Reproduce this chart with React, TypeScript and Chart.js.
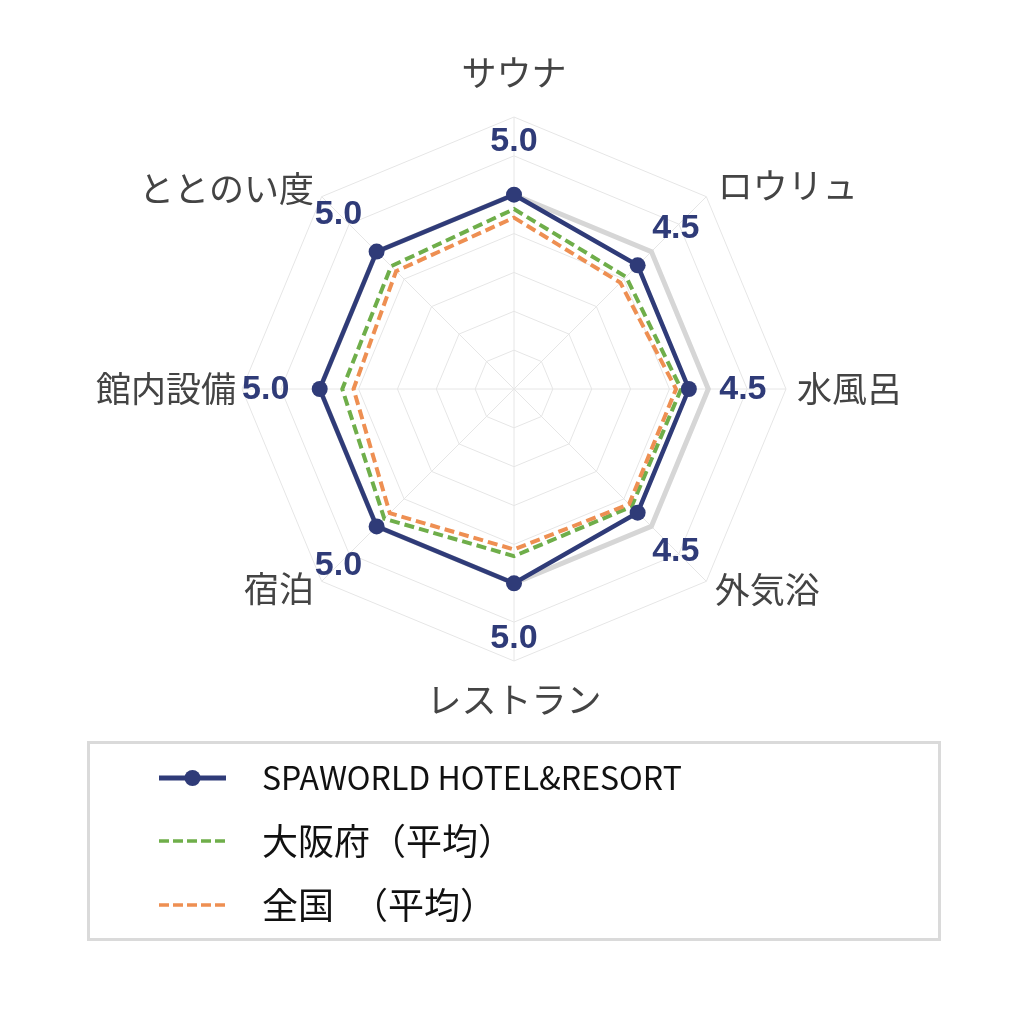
import { useEffect, useRef } from "react";
import { Chart, registerables } from "chart.js";

Chart.register(...registerables);

// 評価項目（上から時計回り）
const categories = ["サウナ", "ロウリュ", "水風呂", "外気浴", "レストラン", "宿泊", "館内設備", "ととのい度"];
const seriesNames = ["SPAWORLD HOTEL&RESORT", "大阪府（平均）", "全国　（平均）"];
const spaworld = [5.0, 4.5, 4.5, 4.5, 5.0, 5.0, 5.0, 5.0];
const osakaAvg = [4.63, 4.08, 4.3, 4.28, 4.3, 4.72, 4.42, 4.47];
const nationalAvg = [4.41, 3.87, 4.17, 4.19, 4.13, 4.52, 4.13, 4.29];
const fullScore = [5, 5, 5, 5, 5, 5, 5, 5];
const scaleMax = 7;

const NAVY = "#2f3b78";
const GREEN = "#6fae4a";
const ORANGE = "#ee8f52";
const SHADOW = "#d6d6d6";

// 項目名を外周からどれだけ離すか
const labelPads = [44, 16, 11, 12, 39, 11, 6, 11];

const radarText = {
  id: "radarText",
  afterDatasetsDraw(chart: any) {
    const scale = chart.scales.r;
    const ctx = chart.ctx as CanvasRenderingContext2D;
    ctx.save();

    // 点の外側の数値
    ctx.font = "bold 34px 'Liberation Sans', Arial, sans-serif";
    ctx.fillStyle = NAVY;
    ctx.textAlign = "center";
    ctx.textBaseline = "middle";
    spaworld.forEach((v, i) => {
      const p = scale.getPointPosition(i, scale.getDistanceFromCenterForValue(v) + 54);
      ctx.fillText(v.toFixed(1), p.x, p.y + 1);
    });

    // 項目名
    ctx.font = "35px 'Noto Sans CJK JP', sans-serif";
    ctx.fillStyle = "#444";
    categories.forEach((c, i) => {
      const p = scale.getPointPosition(i, scale.drawingArea + labelPads[i]);
      const dx = p.x - scale.xCenter;
      ctx.textAlign = Math.abs(dx) < 1 ? "center" : dx > 0 ? "left" : "right";
      ctx.fillText(c, p.x, p.y);
    });
    ctx.restore();
  },
};

const boxLegend = {
  id: "boxLegend",
  afterDraw(chart: any) {
    const ctx = chart.ctx as CanvasRenderingContext2D;
    ctx.save();
    ctx.strokeStyle = "#dadada";
    ctx.lineWidth = 3;
    ctx.strokeRect(88.5, 742.5, 851, 197);

    const rows = [778, 841, 905];
    chart.data.datasets.slice(0, 3).forEach((ds: any, i: number) => {
      const y = rows[i];
      ctx.strokeStyle = ds.borderColor;
      ctx.lineWidth = i === 0 ? 5 : 3.5;
      ctx.setLineDash(ds.borderDash ? [10, 4] : []);
      ctx.beginPath();
      ctx.moveTo(159, y);
      ctx.lineTo(226, y);
      ctx.stroke();
      ctx.setLineDash([]);
      if (ds.pointRadius > 0) {
        ctx.fillStyle = ds.borderColor;
        ctx.beginPath();
        ctx.arc(192.5, y, 8, 0, Math.PI * 2);
        ctx.fill();
      }
      ctx.fillStyle = "#111";
      ctx.font = i === 0 ? "32px 'Noto Sans CJK JP', sans-serif" : "36px 'Noto Sans CJK JP', sans-serif";
      ctx.textAlign = "left";
      ctx.textBaseline = "middle";
      ctx.fillText(ds.label, 262, y);
    });
    ctx.restore();
  },
};

export default function App() {
  const canvasRef = useRef<HTMLCanvasElement | null>(null);

  useEffect(() => {
    if (!canvasRef.current) return;

    const chart = new Chart(canvasRef.current, {
      type: "radar",
      data: {
        labels: categories,
        datasets: [
          {
            label: seriesNames[0],
            data: spaworld,
            borderColor: NAVY,
            backgroundColor: NAVY,
            borderWidth: 4.5,
            pointRadius: 8,
            pointBackgroundColor: NAVY,
            pointBorderWidth: 0,
            fill: false,
            order: 0,
          },
          {
            label: seriesNames[1],
            data: osakaAvg,
            borderColor: GREEN,
            borderWidth: 4,
            borderDash: [10, 5],
            pointRadius: 0,
            fill: false,
            order: 2,
          },
          {
            label: seriesNames[2],
            data: nationalAvg,
            borderColor: ORANGE,
            borderWidth: 4,
            borderDash: [10, 5],
            pointRadius: 0,
            fill: false,
            order: 1,
          },
          {
            label: "満点",
            data: fullScore,
            borderColor: SHADOW,
            borderWidth: 5,
            pointRadius: 0,
            fill: false,
            order: 3,
          },
        ],
      },
      options: {
        responsive: true,
        maintainAspectRatio: false,
        animation: false,
        layout: { padding: { left: 242, top: 117, right: 238, bottom: 363 } },
        plugins: {
          legend: { display: false },
          tooltip: { enabled: false },
        },
        scales: {
          r: {
            min: 0,
            max: scaleMax,
            ticks: { display: false, stepSize: 1 },
            grid: { color: "#e6e6e6", lineWidth: 1 },
            angleLines: { color: "#e6e6e6", lineWidth: 1 },
            pointLabels: { display: false },
          },
        },
      },
      plugins: [radarText, boxLegend],
    });

    return () => chart.destroy();
  }, []);

  return (
    <div style={{ position: "absolute", left: 0, top: 0, width: 1024, height: 1024, background: "#fff" }}>
      <canvas ref={canvasRef}></canvas>
    </div>
  );
}
